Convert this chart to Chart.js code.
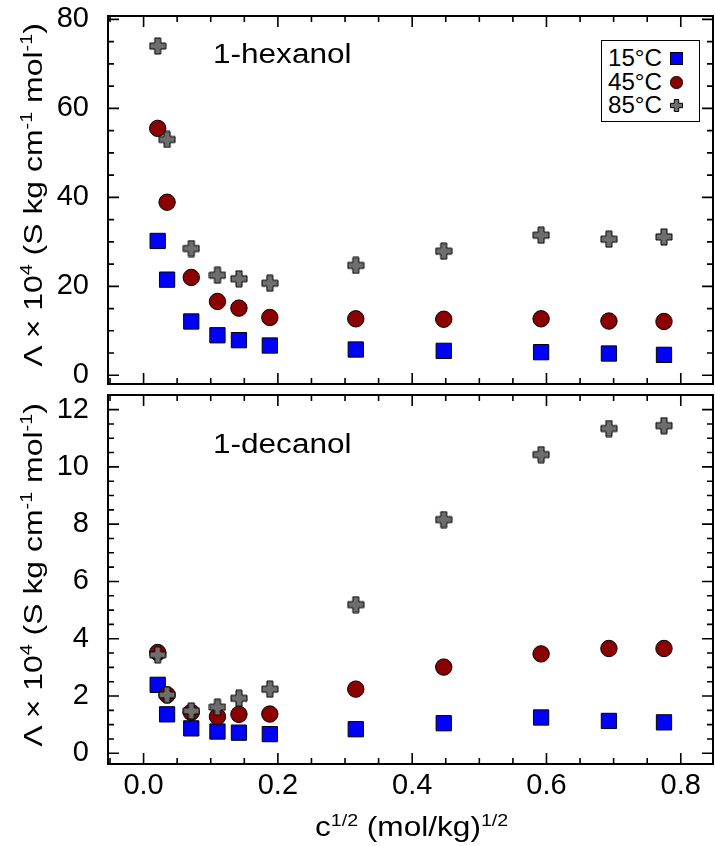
<!DOCTYPE html>
<html>
<head>
<meta charset="utf-8">
<script src="https://cdn.jsdelivr.net/npm/chart.js@4.4.1/dist/chart.umd.min.js"></script>
<style>
  body { margin: 0; background: #fff; }
  #wrap { position: relative; width: 715px; height: 846px; font-family: "Liberation Sans", Arial, sans-serif; color: #000; }
  canvas { position: absolute; left: 0; }
  .txt { position: absolute; white-space: nowrap; line-height: 1; }
  .txt sup { font-size: 0.62em; vertical-align: 0; position: relative; top: -0.62em; line-height: 0; }
  #legend { position: absolute; left: 601px; top: 40px; width: 97px; height: 80px; border: 1px solid #000; background: #fff; }
</style>
</head>
<body>
<div id="wrap">
  <canvas id="chartTop" width="715" height="390" style="top:0"></canvas>
  <canvas id="chartBot" width="715" height="461" style="top:385px"></canvas>

  <div class="txt" id="ttlHex" style="font-size:27px">1-hexanol</div>
  <div class="txt" id="ttlDec" style="font-size:27px">1-decanol</div>

  <div class="txt" id="yTitleTop" style="font-size:26px">&Lambda; &times; 10<sup>4</sup> (S kg cm<sup>-1</sup> mol<sup>-1</sup>)</div>
  <div class="txt" id="yTitleBot" style="font-size:26px">&Lambda; &times; 10<sup>4</sup> (S kg cm<sup>-1</sup> mol<sup>-1</sup>)</div>
  <div class="txt" id="xTitle" style="font-size:28px">c<sup>1/2</sup> (mol/kg)<sup>1/2</sup></div>

  <div id="legend"></div>
</div>

<script>
// x = c^1/2 (mol/kg)^1/2, same concentrations for both alcohols
const xVals = [0.021, 0.035, 0.071, 0.110, 0.142, 0.188, 0.316, 0.447, 0.592, 0.693, 0.775];

// 1-hexanol, Lambda x 10^4
const hex15 = [30.2, 21.5, 12.1, 9.0, 7.9, 6.7, 5.8, 5.5, 5.2, 4.9, 4.6];
const hex45 = [55.5, 38.9, 22.0, 16.6, 15.1, 13.0, 12.7, 12.6, 12.7, 12.2, 12.1];
const hex85 = [74.0, 53.0, 28.5, 22.5, 21.7, 20.7, 24.7, 27.9, 31.5, 30.6, 31.1];

// 1-decanol, Lambda x 10^4
const dec15 = [2.39, 1.36, 0.87, 0.76, 0.72, 0.67, 0.84, 1.05, 1.25, 1.13, 1.08];
const dec45 = [3.52, 2.04, 1.43, 1.28, 1.36, 1.37, 2.24, 3.01, 3.47, 3.66, 3.66];
const dec85 = [3.44, 2.04, 1.48, 1.61, 1.92, 2.24, 5.19, 8.16, 10.43, 11.34, 11.44];

const temps = ['15°C', '45°C', '85°C'];
const xTicks = [0.0, 0.2, 0.4, 0.6, 0.8];
const hexTicks = [0, 20, 40, 60, 80];
const decTicks = [0, 2, 4, 6, 8, 10, 12];

const tickFont = { family: '"Liberation Sans", Arial, sans-serif', size: 29 };

function plusMarker(size, arm) {
  const c = document.createElement('canvas');
  c.width = c.height = size + 2;
  const g = c.getContext('2d');
  const m = (size + 2) / 2, h = size / 2, w = arm / 2;
  g.beginPath();
  g.moveTo(m - w, m - h); g.lineTo(m + w, m - h); g.lineTo(m + w, m - w);
  g.lineTo(m + h, m - w); g.lineTo(m + h, m + w); g.lineTo(m + w, m + w);
  g.lineTo(m + w, m + h); g.lineTo(m - w, m + h); g.lineTo(m - w, m + w);
  g.lineTo(m - h, m + w); g.lineTo(m - h, m - w); g.lineTo(m - w, m - w);
  g.closePath();
  g.fillStyle = '#6e6e6e';
  g.fill();
  g.strokeStyle = '#000';
  g.lineWidth = 1;
  g.stroke();
  return c;
}
const plusImg = plusMarker(16, 6);

function pts(ys) {
  return xVals.map((x, i) => ({ x: x, y: ys[i] }));
}

function makeSets(d15, d45, d85) {
  return [
    { label: temps[0], data: pts(d15), pointStyle: 'rect', pointRadius: 10.8,
      backgroundColor: '#0000ff', borderColor: '#000', borderWidth: 1, order: 3 },
    { label: temps[1], data: pts(d45), pointStyle: 'circle', pointRadius: 8.2,
      backgroundColor: '#8b0000', borderColor: '#000', borderWidth: 1, order: 2 },
    { label: temps[2], data: pts(d85), pointStyle: plusImg, pointRadius: 9,
      backgroundColor: '#6e6e6e', borderColor: '#000', borderWidth: 1, order: 1 }
  ];
}

// box round the plot with inward ticks on all four sides
const frameTicks = {
  id: 'frameTicks',
  afterDraw(chart, args, opts) {
    const { ctx, chartArea: a, scales: { x, y } } = chart;
    ctx.save();
    ctx.strokeStyle = '#000';
    ctx.lineWidth = 1.6;
    ctx.beginPath();
    const xmin = x.min, xmax = x.max, ymin = y.min, ymax = y.max;
    for (let k = -2; k <= 20; k++) {
      const v = k * 0.05;
      if (v < xmin || v > xmax) continue;
      const px = x.getPixelForValue(v);
      const len = (k % 4 === 0) ? 11 : 6;
      ctx.moveTo(px, a.bottom); ctx.lineTo(px, a.bottom - len);
      ctx.moveTo(px, a.top); ctx.lineTo(px, a.top + len);
    }
    const step = opts.minorStep;
    for (let k = Math.ceil(ymin / step); k * step <= ymax; k++) {
      const v = k * step;
      const py = y.getPixelForValue(v);
      const len = (k % 4 === 0) ? 11 : 6;
      ctx.moveTo(a.left, py); ctx.lineTo(a.left + len, py);
      ctx.moveTo(a.right, py); ctx.lineTo(a.right - len, py);
    }
    ctx.stroke();
    ctx.lineWidth = 2;
    ctx.strokeRect(a.left, a.top, a.right - a.left, a.bottom - a.top);
    ctx.restore();
  }
};

// labels that stick out past the plot edge must not shrink the plot
function noPad(s) {
  s.paddingTop = 0;
  s.paddingBottom = 0;
  s.paddingLeft = 0;
  s.paddingRight = 0;
}

function makeChart(id, sets, yMin, yMax, yTicks, minorStep, showX) {
  return new Chart(document.getElementById(id), {
    type: 'scatter',
    data: { datasets: sets },
    options: {
      responsive: false,
      animation: false,
      events: [],
      layout: { autoPadding: false, padding: { top: showX ? 10 : 16, right: 2, left: 0, bottom: 0 } },
      plugins: {
        legend: { display: false },
        tooltip: { enabled: false },
        frameTicks: { minorStep: minorStep }
      },
      scales: {
        x: {
          type: 'linear', min: -0.053, max: 0.848,
          grid: { display: false }, border: { display: false },
          ticks: { display: showX, color: '#000', font: tickFont, padding: -3,
                   maxRotation: 0, callback: v => v.toFixed(1) },
          afterBuildTicks: s => { s.ticks = xTicks.map(v => ({ value: v })); },
          afterFit: s => { s.height = showX ? 82 : 6; noPad(s); }
        },
        y: {
          type: 'linear', min: yMin, max: yMax,
          grid: { display: false }, border: { display: false },
          ticks: { color: '#000', font: tickFont, padding: 11, callback: v => String(v) },
          afterBuildTicks: s => { s.ticks = yTicks.map(v => ({ value: v })); },
          afterFit: s => { s.width = 108; noPad(s); }
        }
      }
    },
    plugins: [frameTicks]
  });
}

makeChart('chartTop', makeSets(hex15, hex45, hex85), -1.95, 80.75, hexTicks, 5, false);
makeChart('chartBot', makeSets(dec15, dec45, dec85), -0.374, 12.51, decTicks, 0.5, true);

// legend: label then marker on the right
const legend = document.getElementById('legend');
const legendMarks = [
  '<rect x="0.5" y="0.5" width="12" height="12" fill="#0000ff" stroke="#000" stroke-width="1"/>',
  '<circle cx="6.5" cy="6.5" r="6.2" fill="#8b0000" stroke="#000" stroke-width="0.8"/>',
  '<path d="M4.3 0.5h4.4v3.8h3.8v4.4h-3.8v3.8h-4.4v-3.8h-3.8v-4.4h3.8z" fill="#6e6e6e" stroke="#000" stroke-width="1"/>'
];
const baselines = [66.7, 90.5, 113.5];
temps.forEach((t, i) => {
  const lab = document.createElement('div');
  lab.className = 'txt';
  lab.style.fontSize = '23px';
  lab.style.left = (608 - 602) + 'px';
  lab.style.top = (baselines[i] - 41 - 0.8465 * 23) + 'px';
  lab.style.transformOrigin = 'left center';
  lab.style.transform = 'scaleX(1.05)';
  lab.textContent = t;
  legend.appendChild(lab);
  const svg = document.createElementNS('http://www.w3.org/2000/svg', 'svg');
  svg.setAttribute('width', '13');
  svg.setAttribute('height', '13');
  svg.style.position = 'absolute';
  svg.style.left = (670 - 602) + 'px';
  svg.style.top = (baselines[i] - 41 - 15) + 'px';
  svg.innerHTML = legendMarks[i];
  legend.appendChild(svg);
});

// text placement: stretch to the widths in the original
function placeText(id, left, baseline, width) {
  const el = document.getElementById(id);
  const fs = parseFloat(el.style.fontSize);
  const k = width / el.offsetWidth;
  el.style.left = left + 'px';
  el.style.top = (baseline - 0.8465 * fs) + 'px';
  el.style.transformOrigin = 'left top';
  el.style.transform = 'scaleX(' + k + ')';
}
function placeCentered(id, cx, baseline, width) {
  placeText(id, cx - width / 2, baseline, width);
}
function placeVertical(id, cx, cy, length) {
  const el = document.getElementById(id);
  const w = el.offsetWidth, h = el.offsetHeight;
  const k = length / w;
  el.style.left = (cx - w / 2) + 'px';
  el.style.top = (cy - h / 2) + 'px';
  el.style.transformOrigin = 'center center';
  el.style.transform = 'rotate(-90deg) scaleX(' + k + ')';
}

placeText('ttlHex', 213, 63.5, 139);
placeText('ttlDec', 213, 453.5, 139);
placeCentered('xTitle', 411.5, 837, 193);
placeVertical('yTitleTop', 33, 195, 344);
placeVertical('yTitleBot', 33, 575, 344);
</script>
</body>
</html>
